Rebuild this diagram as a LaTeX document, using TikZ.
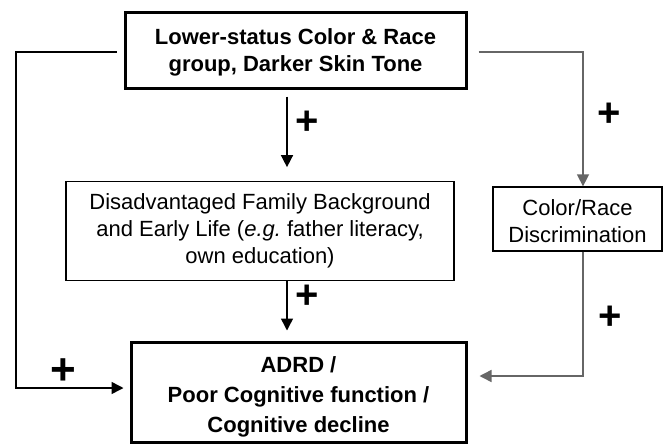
\documentclass[tikz,border=0pt]{standalone}
\usepackage{fontspec}
\setmainfont{Liberation Sans}
\usetikzlibrary{arrows.meta}
\frenchspacing

\begin{document}
\begin{tikzpicture}[x=1pt, y=-1pt,
        thickbox/.style={draw, line width=3pt, align=center, inner sep=0pt,
            font=\bfseries\fontsize{22}{27}\selectfont},
        thinbox/.style={draw, line width=1.3pt, align=center, inner sep=0pt,
            font=\fontsize{22}{27}\selectfont},
        conn/.style={line width=1.5pt, -{Triangle[length=12pt,width=12pt]}},
        conngray/.style={conn, draw=black!60},
        plussign/.style={font=\bfseries\fontsize{40}{40}\selectfont, inner sep=0pt}]
        \useasboundingbox (0,0) rectangle (663,444);

        \node[thickbox, minimum width=341pt, minimum height=75pt] (status) at (295.5,50.5)
            {\rule{0pt}{20pt}Lower-status Color \& Race\\group, Darker Skin Tone};
        \node[thinbox, minimum width=388pt, minimum height=99pt] (family) at (260,231.3)
            {Disadvantaged Family Background\\and Early Life (\textit{e.g.} father literacy,\\own education)};
        \node[thinbox, minimum width=169pt, minimum height=64pt] (discrim) at (577.5,219)
            {\rule{0pt}{20pt}Color/Race\\Discrimination};
        \node[thickbox, minimum width=335pt, minimum height=100pt,
            font=\bfseries\fontsize{22}{30}\selectfont] (adrd) at (298.5,392)
            {\rule{0pt}{26pt}ADRD /\\Poor Cognitive function /\\Cognitive decline};

        \coordinate (leftcorner) at (16,52);

        \draw[conn] ([xshift=-8.5pt,yshift=-7pt]status.south) -- ([xshift=27pt,yshift=14pt]family.north);
        \draw[conn] ([xshift=27pt]family.south) -- ([xshift=-11.5pt,yshift=10pt]adrd.north);
        \draw[conngray] ([xshift=11pt,yshift=-1.5pt]status.east) -| ([xshift=5.5pt]discrim.north);
        \draw[conngray] ([xshift=5.5pt]discrim.south) |- ([xshift=12pt,yshift=16pt]adrd.east);
        \draw[conn] ([xshift=-7pt,yshift=-1.5pt]status.west) -- (leftcorner)
            |- ([xshift=-6pt,yshift=4pt]adrd.west);

        \node[plussign] (plustop) at (307,123) {+};
        \node[plussign] (plusright) at (609,115) {+};
        \node[plussign] (plusmid) at (307,297) {+};
        \node[plussign] (pluslow) at (610,318) {+};
        \node[plussign, font=\bfseries\fontsize{44}{44}\selectfont] (plusleft) at (63,372) {+};
\end{tikzpicture}
\end{document}
